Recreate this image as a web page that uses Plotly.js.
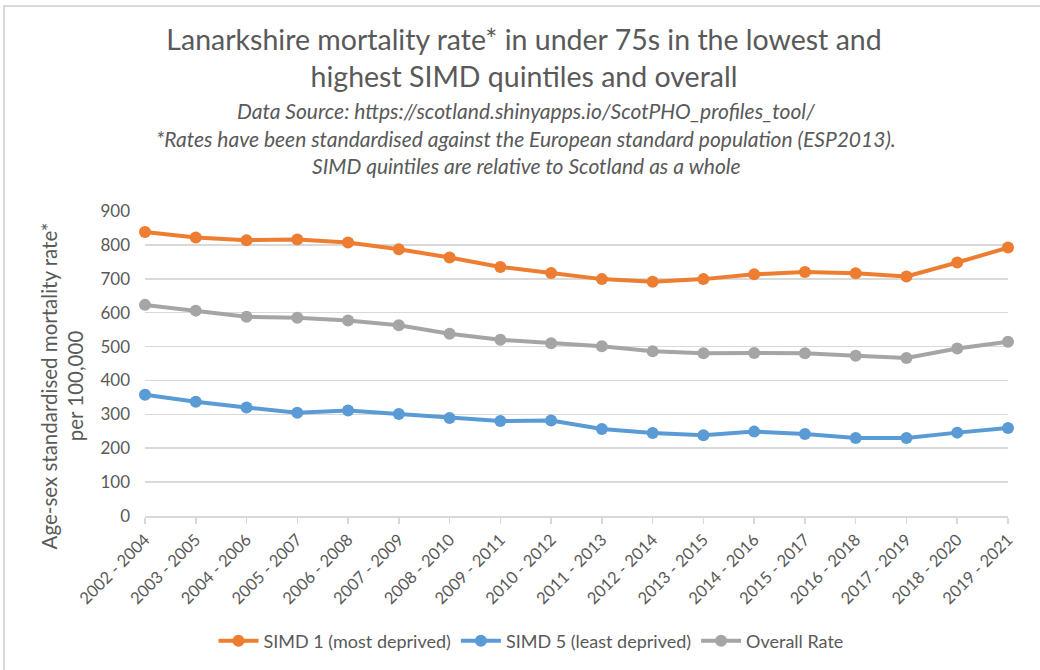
<!DOCTYPE html>
<html>
<head>
<meta charset="utf-8">
<script src="https://cdn.plot.ly/plotly-3.0.1.min.js"></script>
<style>
  html, body { margin: 0; padding: 0; background: #ffffff; }
  #wrap { position: relative; width: 1040px; height: 670px; overflow: hidden; }
  #chart { position: absolute; left: 0; top: 0; width: 1040px; height: 670px; }
  #frame { position: absolute; left: 3px; top: 5px; width: 1100px; height: 700px;
           border-top: 2px solid #d9d9d9; border-left: 2px solid #d9d9d9; pointer-events: none; }
</style>
</head>
<body>
<div id="wrap">
  <div id="chart"></div>
  <div id="frame"></div>
</div>
<script>
// Three-year rolling periods
const periods = [
  "2002 - 2004", "2003 - 2005", "2004 - 2006", "2005 - 2007", "2006 - 2008", "2007 - 2009",
  "2008 - 2010", "2009 - 2011", "2010 - 2012", "2011 - 2013", "2012 - 2014", "2013 - 2015",
  "2014 - 2016", "2015 - 2017", "2016 - 2018", "2017 - 2019", "2018 - 2020", "2019 - 2021"
];

// Age-sex standardised mortality rate per 100,000 (under 75s)
const simd1 = [838, 822, 814, 816, 807, 787, 763, 735, 717, 699, 691, 699, 713, 720, 716, 707, 748, 792];
const simd5 = [358, 337, 320, 305, 311, 301, 289, 280, 282, 257, 245, 238, 249, 242, 230, 230, 246, 260];
const overall = [623, 606, 588, 585, 577, 563, 538, 520, 510, 501, 486, 480, 481, 480, 473, 466, 494, 514];

const seriesNames = ["SIMD 1 (most deprived)", "SIMD 5 (least deprived)", "Overall Rate"];
const seriesColors = ["#ED7D31", "#5B9BD5", "#A5A5A5"];
const seriesValues = [simd1, simd5, overall];

const yTicks = [0, 100, 200, 300, 400, 500, 600, 700, 800, 900];

const FONT = "Lato, 'Open Sans', sans-serif";
const TXT = "#595959";

const traces = seriesValues.map((vals, i) => ({
  type: "scatter",
  mode: "lines+markers",
  name: seriesNames[i],
  x: periods,
  y: vals,
  line: { color: seriesColors[i], width: 4 },
  marker: { color: seriesColors[i], size: 12 },
  cliponaxis: false
}));

const subLines = [
  "Data Source: https://scotland.shinyapps.io/ScotPHO_profiles_tool/",
  "*Rates have been standardised against the European standard population (ESP2013).",
  "SIMD quintiles are relative to Scotland as a whole"
];
const subY = [110, 138, 165];

const annotations = subLines.map((t, i) => ({
  text: "<i>" + t + "</i>",
  xref: "paper", yref: "paper",
  x: (526 - 145) / 863, xanchor: "center",
  y: (670 - 153 - subY[i]) / 306, yanchor: "middle",
  showarrow: false,
  font: { family: FONT, size: 21, color: TXT }
}));

annotations.push({
  text: "Age-sex standardised mortality rate*<br>per 100,000",
  xref: "paper", yref: "paper",
  x: (62 - 145) / 863, xanchor: "center",
  y: (670 - 153 - 387) / 306, yanchor: "middle",
  textangle: -90,
  showarrow: false,
  font: { family: FONT, size: 20.5, color: TXT }
});

const layout = {
  width: 1040,
  height: 670,
  paper_bgcolor: "#ffffff",
  plot_bgcolor: "#ffffff",
  margin: { l: 145, r: 32, t: 211, b: 153 },
  font: { family: FONT, color: TXT },
  title: {
    text: "Lanarkshire mortality rate* in under 75s in the lowest and<br>highest SIMD quintiles and overall",
    xref: "container", x: 524 / 1040, xanchor: "center",
    yref: "container", y: 1 - 50 / 670, yanchor: "top",
    font: { family: FONT, size: 28.5, color: TXT, weight: 400 }
  },
  xaxis: {
    type: "category",
    range: [0, periods.length - 1],
    showgrid: false,
    showline: true,
    linecolor: "#d9d9d9",
    linewidth: 1.5,
    ticks: "outside",
    ticklen: 6,
    tickcolor: "#d9d9d9",
    tickwidth: 1.5,
    tickangle: -45,
    tickfont: { family: FONT, size: 16.5, color: TXT },
    fixedrange: true
  },
  yaxis: {
    range: [0, 900],
    tickvals: yTicks,
    ticktext: yTicks.map(String),
    showgrid: true,
    gridcolor: "#d9d9d9",
    gridwidth: 1.5,
    zeroline: false,
    showline: false,
    ticks: "",
    ticklabelstandoff: 14,
    tickfont: { family: FONT, size: 17, color: TXT },
    fixedrange: true
  },
  legend: {
    orientation: "h",
    x: (531 - 145) / 863, xanchor: "center",
    y: (670 - 153 - 641) / 306, yanchor: "middle",
    font: { family: FONT, size: 18, color: TXT },
    itemwidth: 40,
    tracegroupgap: 0
  },
  annotations: annotations,
  showlegend: true
};

Plotly.newPlot("chart", traces, layout, { displayModeBar: false, staticPlot: true });
</script>
</body>
</html>
